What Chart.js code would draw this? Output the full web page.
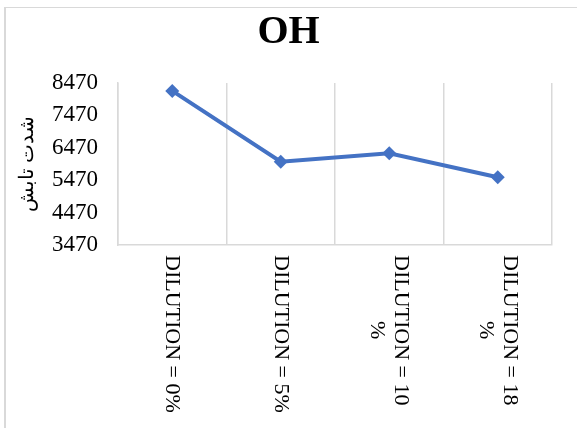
<!DOCTYPE html>
<html>
<head>
<meta charset="utf-8">
<script src="https://cdn.jsdelivr.net/npm/chart.js@4/dist/chart.umd.min.js"></script>
<style>
html,body{margin:0;padding:0;background:#fff;}
canvas{display:block;}
</style>
</head>
<body>
<canvas id="c" width="577" height="428"></canvas>
<script>
const chartTitle = "OH";
const yAxisTitle = "شدت تابش";
const categories = ["DILUTION = 0%", "DILUTION = 5%", "DILUTION = 10 %", "DILUTION = 18 %"];
const categoryLines = [["DILUTION = 0%"], ["DILUTION = 5%"], ["DILUTION = 10", "%"], ["DILUTION = 18", "%"]];
const ohValues = [8225, 6040, 6300, 5560];
const yMin = 3470, yMax = 8470, yStep = 1000;

const serif = '"Times New Roman", "Liberation Serif", serif';
const gridCol = '#d9d9d9';

const framePlugin = {
  id: 'frame',
  beforeDraw(chart) {
    const ctx = chart.ctx;
    ctx.save();
    ctx.strokeStyle = gridCol;
    ctx.lineWidth = 2;
    ctx.beginPath();
    ctx.moveTo(5, 700); ctx.lineTo(5, 7.5); ctx.stroke();
    ctx.lineWidth = 1.2;
    ctx.beginPath();
    ctx.moveTo(4, 7.5); ctx.lineTo(700, 7.5); ctx.stroke();
    ctx.restore();
  }
};

const xLabelPlugin = {
  id: 'xlabels',
  afterDraw(chart) {
    const xs = chart.scales.x;
    const ctx = chart.ctx;
    const lh = 24;
    const top = chart.chartArea.bottom + 10;
    ctx.save();
    ctx.font = '22px ' + serif;
    ctx.fillStyle = '#000';
    ctx.textAlign = 'center';
    ctx.textBaseline = 'middle';
    categoryLines.forEach((lines, i) => {
      const x = xs.getPixelForTick(i);
      const blockW = Math.max(...lines.map(l => ctx.measureText(l).width));
      const n = lines.length;
      ctx.save();
      ctx.translate(x, top);
      ctx.rotate(Math.PI / 2);
      lines.forEach((l, k) => {
        ctx.fillText(l, blockW / 2, (k - (n - 1) / 2) * lh);
      });
      ctx.restore();
    });
    ctx.restore();
  }
};

new Chart(document.getElementById('c'), {
  type: 'line',
  data: {
    labels: categories,
    datasets: [{
      label: chartTitle,
      data: ohValues,
      borderColor: '#4472C4',
      backgroundColor: '#4472C4',
      borderWidth: 4,
      pointStyle: 'rectRot',
      pointRadius: 7,
      pointBorderWidth: 0,
      tension: 0
    }]
  },
  options: {
    responsive: false,
    animation: false,
    devicePixelRatio: 1,
    layout: { padding: { right: 25, left: 25, top: 0, bottom: 0 } },
    plugins: {
      legend: { display: false },
      tooltip: { enabled: false },
      title: {
        display: true,
        text: chartTitle,
        color: '#000',
        font: { family: serif, size: 40, weight: 'bold' },
        padding: { top: 9, bottom: 26 }
      }
    },
    scales: {
      x: {
        type: 'category',
        offset: true,
        grid: { display: true, offset: true, color: gridCol, lineWidth: 1.5, drawTicks: false },
        border: { display: true, color: gridCol, width: 1.5 },
        ticks: { display: false },
        afterFit(scale) { scale.height = 183; }
      },
      y: {
        min: yMin,
        max: yMax,
        grid: { display: false, drawTicks: false },
        border: { display: true, color: gridCol, width: 1.5 },
        ticks: {
          stepSize: yStep,
          padding: 20,
          color: '#000',
          font: { family: serif, size: 23 },
          callback: v => String(v)
        },
        title: {
          display: true,
          text: yAxisTitle,
          color: '#000',
          font: { family: serif, size: 20 },
          padding: { top: -9, bottom: 0 }
        },
        afterFit(scale) { scale.width = 93; }
      }
    }
  },
  plugins: [framePlugin, xLabelPlugin]
});
</script>
</body>
</html>
